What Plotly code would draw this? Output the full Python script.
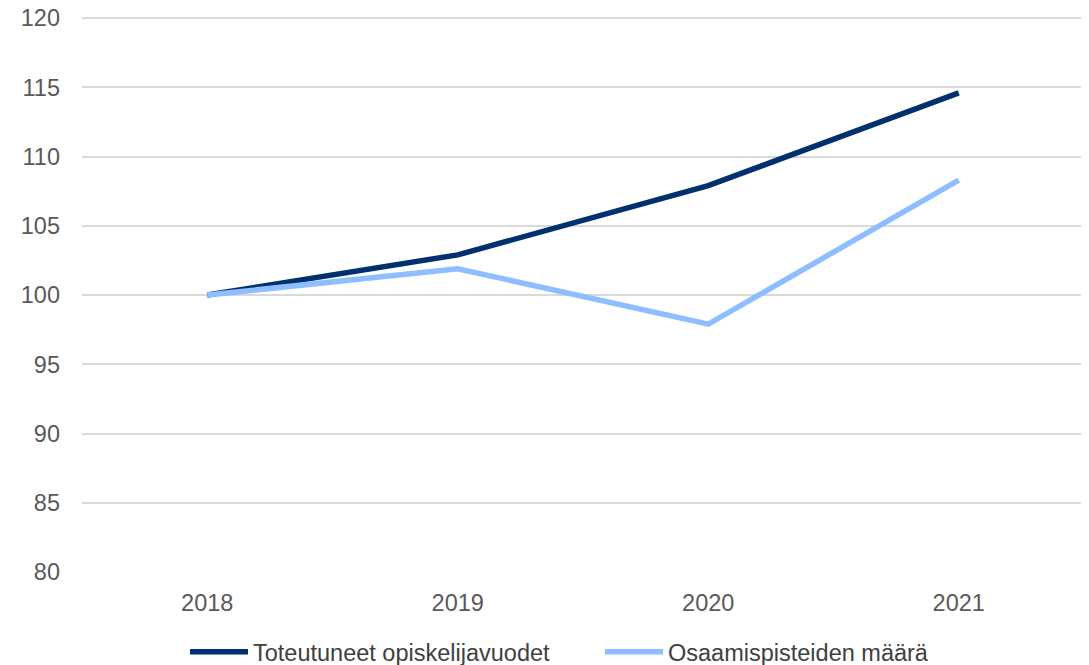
import plotly.graph_objects as go

years = ["2018", "2019", "2020", "2021"]
opiskelijavuodet = [100, 102.9, 107.9, 114.6]
osaamispisteet = [100, 101.9, 97.9, 108.3]
series_names = ["Toteutuneet opiskelijavuodet", "Osaamispisteiden määrä"]
y_ticks = [80, 85, 90, 95, 100, 105, 110, 115, 120]

fig = go.Figure()
fig.add_trace(go.Scatter(x=years, y=opiskelijavuodet, mode="lines", name=series_names[0],
                         line=dict(color="#00306E", width=5.5)))
fig.add_trace(go.Scatter(x=years, y=osaamispisteet, mode="lines", name=series_names[1],
                         line=dict(color="#8EBEFF", width=5.5)))

fam = "Liberation Sans, Arial, sans-serif"
# page body has an 8px default margin, so figure coordinates are offset by 8px
fig.update_layout(
    width=1089, height=665,
    margin=dict(l=74, r=13, t=9, b=101, autoexpand=False),
    paper_bgcolor="white", plot_bgcolor="white",
    font=dict(family=fam, size=23.5, color="#595959"),
    showlegend=True,
    legend=dict(orientation="h", xref="container", yref="container",
                x=177 / 1089, xanchor="left", y=1 - 644 / 665, yanchor="middle",
                font=dict(family=fam, size=23.5, color="#404040"),
                itemwidth=58, entrywidth=342, entrywidthmode="pixels",
                tracegroupgap=0),
    xaxis=dict(type="category", range=[-0.5, 3.5], showgrid=False, showline=False,
               zeroline=False, ticks="", ticklabelstandoff=14, automargin=False),
    yaxis=dict(range=[80, 120.08], tickvals=y_ticks, showgrid=True, gridcolor="#D9D9D9",
               gridwidth=1.5, zeroline=False, showline=False, ticks="",
               ticklabelstandoff=21, automargin=False, ticklabeloverflow="allow"),
)

fig.write_html("out.html")
